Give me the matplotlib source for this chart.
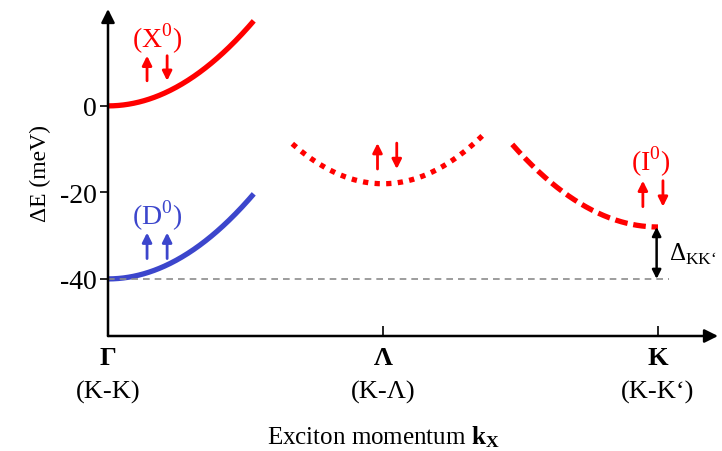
import numpy as np
import matplotlib
matplotlib.use('Agg')
import matplotlib.pyplot as plt

plt.rcParams['font.family'] = ['Liberation Serif', 'DejaVu Serif']
plt.rcParams['mathtext.fontset'] = 'custom'
plt.rcParams['mathtext.rm'] = 'Liberation Serif'
plt.rcParams['mathtext.bf'] = 'Liberation Serif:bold'

# valley positions along the momentum axis
valley_k = [0.0, 1.0, 2.0]
valley_names = [r'$\mathbf{\Gamma}$', r'$\mathbf{\Lambda}$', r'$\mathbf{K}$']
valley_pairs = ['(K-K)', '(K-Λ)', '(K-K‘)']

# parabolic dispersions: minimum energy (meV), curvature (meV per unit k^2), k range
x0_min, x0_curv, x0_range = 0.0, 70.0, (0.0, 0.53)
d0_min, d0_curv, d0_range = -40.0, 70.0, (0.0, 0.53)
lam_min, lam_curv, lam_range = -18.0, 85.0, (0.655, 1.365)
i0_min, i0_curv, i0_range = -28.0, 68.0, (1.47, 2.0)
dark_ref = -40.0

yticks = [0, -20, -40]

red = '#ff0000'
blue = '#3c46cc'

fig = plt.figure(figsize=(7.22, 4.52), dpi=100)
ax = fig.add_axes([108 / 722, 115 / 452, 610 / 722, 327 / 452])
ax.set_xlim(0, 610 / 275)
ax.set_ylim(-53.2, 22.4)


def branch(k0, e0, curv, krange):
    k = np.linspace(krange[0], krange[1], 200)
    return k, e0 + curv * (k - k0) ** 2


k, e = branch(0.0, x0_min, x0_curv, x0_range)
ax.plot(k, e, color=red, lw=3.8, solid_capstyle='butt', clip_on=False)
k, e = branch(0.0, d0_min, d0_curv, d0_range)
ax.plot(k, e, color=blue, lw=3.8, solid_capstyle='butt', clip_on=False)

# dotted Lambda valley, drawn outward from its minimum so both ends match
dot_style = (2.2 - 0.6, (1.0, 1.2))
k, e = branch(1.0, lam_min, lam_curv, (1.0, lam_range[1]))
ax.plot(k, e, color=red, lw=3.8, ls=dot_style, dash_capstyle='butt')
k, e = branch(1.0, lam_min, lam_curv, (1.0, lam_range[0]))
ax.plot(k, e, color=red, lw=3.8, ls=dot_style, dash_capstyle='butt')

k, e = branch(2.0, i0_min, i0_curv, i0_range)
ax.plot(k, e, color=red, lw=3.8, ls=(0, (2.4, 1.1)), dash_capstyle='butt')

# dark exciton reference level
ax.plot([0, 2.04], [dark_ref, dark_ref], color='#8c8c8c', lw=1.2, ls=(0, (4, 3)))

# energy splitting between K-K' and dark state
ax.annotate('', xy=(1.995, dark_ref), xytext=(1.995, i0_min),
            arrowprops=dict(arrowstyle='<|-|>', color='black', lw=1.8,
                            mutation_scale=13, shrinkA=0, shrinkB=0))
ax.text(2.04, (dark_ref + i0_min) / 2, r'$\Delta_{\mathrm{KK‘}}$', fontsize=18,
        va='center', ha='left', clip_on=False)


def spin(x, y0, y1, color):
    ax.annotate('', xy=(x, y1), xytext=(x, y0),
                arrowprops=dict(arrowstyle='-|>', color=color, lw=2.0,
                                mutation_scale=14, shrinkA=0, shrinkB=0))


# spin configurations and labels
spin(0.142, 5.8, 11.6, red)
spin(0.215, 11.6, 5.8, red)
ax.text(0.178, 15.8, r'(X$^0$)', color=red, fontsize=20, ha='center', va='center')

spin(0.142, -35.3, -29.3, blue)
spin(0.215, -35.3, -29.3, blue)
ax.text(0.178, -25.2, r'(D$^0$)', color=blue, fontsize=20, ha='center', va='center')

spin(0.98, -14.6, -8.6, red)
spin(1.05, -8.6, -14.6, red)

spin(1.945, -23.3, -17.3, red)
spin(2.018, -17.3, -23.3, red)
ax.text(1.975, -12.7, r'(I$^0$)', color=red, fontsize=20, ha='center', va='center')

# axes with arrow tips
for s in ax.spines.values():
    s.set_visible(False)
ax.annotate('', xy=(0, 1), xytext=(0, 0), xycoords='axes fraction',
            arrowprops=dict(arrowstyle='-|>', color='black', lw=1.8,
                            mutation_scale=20, shrinkA=0, shrinkB=0))
ax.annotate('', xy=(1, 0), xytext=(0, 0), xycoords='axes fraction',
            arrowprops=dict(arrowstyle='-|>', color='black', lw=1.8,
                            mutation_scale=20, shrinkA=0, shrinkB=0))

ax.set_yticks(yticks)
ax.set_yticklabels([str(v) for v in yticks], fontsize=20)
ax.tick_params(axis='y', direction='out', length=6, width=1.2, pad=2)
ax.set_xticks(valley_k)
ax.set_xticklabels([])
ax.tick_params(axis='x', direction='in', length=7, width=1.2)

for kv, name, pair in zip(valley_k, valley_names, valley_pairs):
    ax.text(kv, -58.2, name, fontsize=19, ha='center', va='center', clip_on=False)
    ax.text(kv, -66.0, pair, fontsize=19, ha='center', va='center', clip_on=False)

ax.text(1.0, -76.3, r'Exciton momentum $\mathbf{k_X}$', fontsize=18,
        ha='center', va='center', clip_on=False)
ax.text(-0.245, -15.3, 'ΔE (meV)', fontsize=17, rotation=90,
        ha='center', va='center', clip_on=False)

fig.savefig('out.png', dpi=100)
